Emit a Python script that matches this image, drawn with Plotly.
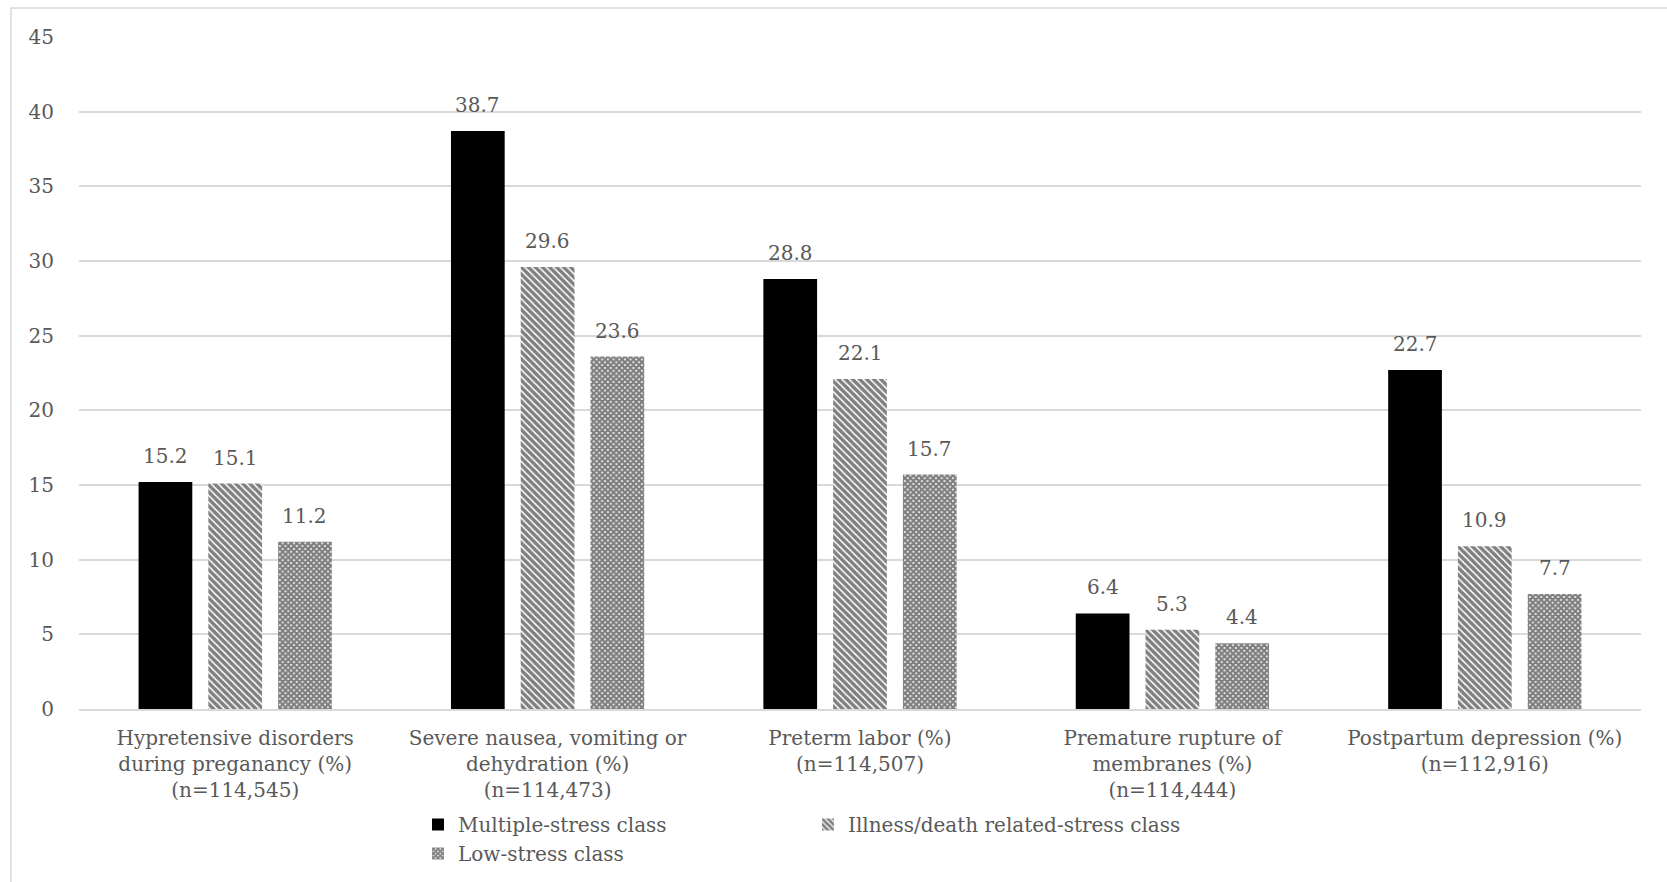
import plotly.graph_objects as go

categories = [
    "Hypretensive disorders<br>during preganancy (%)<br>(n=114,545)",
    "Severe nausea, vomiting or<br>dehydration (%)<br>(n=114,473)",
    "Preterm labor (%)<br>(n=114,507)",
    "Premature rupture of<br>membranes (%)<br>(n=114,444)",
    "Postpartum depression (%)<br>(n=112,916)",
]
multiple_stress = [15.2, 38.7, 28.8, 6.4, 22.7]
illness_death_stress = [15.1, 29.6, 22.1, 5.3, 10.9]
low_stress = [11.2, 23.6, 15.7, 4.4, 7.7]
y_ticks = [0, 5, 10, 15, 20, 25, 30, 35, 40, 45]

FONT = "DejaVu Serif"
GREY = "#595959"
FS = 20

# (name, values, fill pattern, legend it belongs to)
series = [
    ("Multiple-stress class", multiple_stress, None, "legend"),
    ("Illness/death related-stress class", illness_death_stress,
     dict(shape="\\", size=5, solidity=0.7, fgcolor="black", bgcolor="white", fillmode="overlay"),
     "legend2"),
    ("Low-stress class", low_stress,
     dict(shape="x", size=4, solidity=0.8, fgcolor="black", bgcolor="white", fillmode="overlay"),
     "legend"),
]

W, H = 1667, 882
ml, mr, mt, mb = 79, 26, 37, 173
pw, ph = W - ml - mr, H - mt - mb

BARGAP, GROUPGAP = 0.33, 0.23
slot_px = pw / len(categories) * (1 - BARGAP) / len(series)

fig = go.Figure()
for i, (name, vals, pat, leg) in enumerate(series):
    marker = dict(color="black", line=dict(width=0))
    if pat:
        marker = dict(color="white", line=dict(width=0), pattern=pat)
    fig.add_trace(go.Bar(name=name, x=categories, y=vals, marker=marker,
                         legend=leg, legendgroup=f"g{i}"))
    # value labels above each bar
    for cat, v in zip(categories, vals):
        fig.add_annotation(
            x=cat, y=v, xref="x", yref="y", text=f"{v:.1f}", showarrow=False,
            xanchor="center", yanchor="bottom", xshift=(i - 1) * slot_px, yshift=12,
            font=dict(family=FONT, size=FS, color=GREY),
        )

legend_common = dict(
    orientation="v", xanchor="left", yanchor="top",
    y=-(805 - (H - mb)) / ph,
    font=dict(family=FONT, size=FS, color=GREY),
    bgcolor="rgba(0,0,0,0)", tracegroupgap=4, traceorder="normal",
)

fig.update_layout(
    width=W, height=H,
    margin=dict(l=ml, r=mr, t=mt, b=mb, autoexpand=False),
    paper_bgcolor="white", plot_bgcolor="white",
    barmode="group", bargap=BARGAP, bargroupgap=GROUPGAP,
    font=dict(family=FONT, size=FS, color=GREY),
    showlegend=True,
    legend=dict(x=(418 - ml) / pw, **legend_common),
    legend2=dict(x=(808 - ml) / pw, **legend_common),
    xaxis=dict(showgrid=False, showline=True, linecolor="#d9d9d9", linewidth=2,
               ticks="", ticklabelstandoff=10,
               tickfont=dict(family=FONT, size=FS, color=GREY)),
    yaxis=dict(range=[0, 45], tickvals=y_ticks, showgrid=True, gridcolor="#d9d9d9",
               gridwidth=1.5, zeroline=False, showline=False, ticks="",
               ticklabelstandoff=24,
               tickfont=dict(family=FONT, size=FS, color=GREY)),
    shapes=[dict(type="rect", xref="paper", yref="paper",
                 x0=(11 - ml) / pw, x1=1.2, y0=-0.5, y1=(H - mb - 8) / ph,
                 line=dict(color="#d9d9d9", width=1.5), fillcolor="rgba(0,0,0,0)",
                 layer="below")],
)

fig.write_html("out.html")
